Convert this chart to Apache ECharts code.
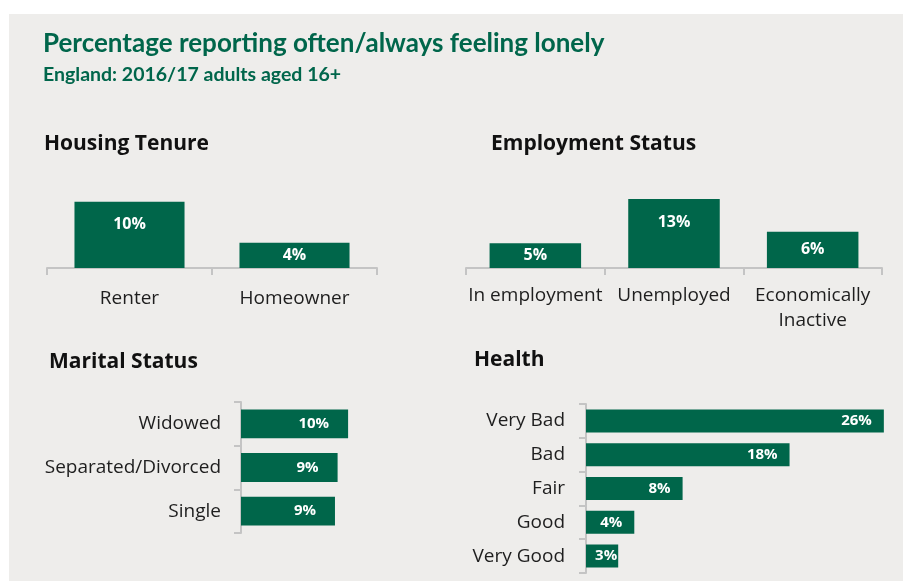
<!DOCTYPE html>
<html>
<head>
<meta charset="utf-8">
<script src="https://cdn.jsdelivr.net/npm/echarts@6/dist/echarts.min.js"></script>
<style>
  html, body { margin:0; padding:0; background:#ffffff; width:903px; height:581px; overflow:hidden; }
  #panel { position:absolute; left:9px; top:14px; right:0; bottom:0; background:#eeedeb; }
  #chart { position:absolute; left:0; top:0; width:903px; height:581px; }
</style>
</head>
<body>
<div id="panel"></div>
<div id="chart"></div>
<script>
// ---- Data ----
const housingCats = ['Renter', 'Homeowner'];
const housingVals = [10.2, 3.9];
const housingLabels = ['10%', '4%'];

const employmentCats = ['In employment', 'Unemployed', 'Economically\nInactive'];
const employmentVals = [4.6, 12.8, 6.7];
const employmentLabels = ['5%', '13%', '6%'];

const maritalCats = ['Widowed', 'Separated/Divorced', 'Single'];
const maritalVals = [10.2, 9.2, 8.95];
const maritalLabels = ['10%', '9%', '9%'];

const healthCats = ['Very Bad', 'Bad', 'Fair', 'Good', 'Very Good'];
const healthVals = [25.9, 17.7, 8.4, 4.2, 2.8];
const healthLabels = ['26%', '18%', '8%', '4%', '3%'];

// ---- Styles ----
const GREEN = '#00664a';
const AXIS = '#c4c4c4';
const OPEN = '"Open Sans", sans-serif';
const LATO = 'Lato, sans-serif';
const CAT_FONT = { fontFamily: OPEN, fontSize: 19, color: '#1e1e1e' };

function catAxisX(gridIndex, cats, margin, lineHeight) {
  return {
    type: 'category', gridIndex, data: cats,
    axisLine: { show: true, lineStyle: { color: AXIS, width: 2 } },
    axisTick: { show: true, length: 7, lineStyle: { color: AXIS, width: 2 } },
    axisLabel: Object.assign({ margin, lineHeight, interval: 0 }, CAT_FONT),
    splitLine: { show: false }
  };
}
function catAxisY(gridIndex, cats, margin) {
  return {
    type: 'category', gridIndex, data: cats, inverse: true,
    axisLine: { show: true, lineStyle: { color: AXIS, width: 2 } },
    axisTick: { show: true, length: 7, lineStyle: { color: AXIS, width: 2 } },
    axisLabel: Object.assign({ margin, interval: 0 }, CAT_FONT),
    splitLine: { show: false }
  };
}
function valAxis(gridIndex, max) {
  return { type: 'value', gridIndex, min: 0, max, show: false, splitLine: { show: false } };
}
function labelOf(arr) { return p => arr[p.dataIndex]; }

const valueLabelBase = { show: true, color: '#ffffff', fontFamily: OPEN, fontWeight: 'bold' };
const sectionStyle = { fontFamily: OPEN, fontWeight: 'bold', fontSize: 21, color: '#111111' };

const option = {
  animation: false,
  backgroundColor: 'transparent',
  title: [
    { text: 'Percentage reporting often/always feeling lonely', left: 43, top: 31, padding: 0,
      textStyle: { fontFamily: LATO, fontWeight: 'bold', fontSize: 26, color: '#00664b' } },
    { text: 'England: 2016/17 adults aged 16+', left: 43, top: 65, padding: 0,
      textStyle: { fontFamily: LATO, fontWeight: 'bold', fontSize: 19.5, color: '#00664b' } },
    { text: 'Housing Tenure', left: 44, top: 134, padding: 0, textStyle: sectionStyle },
    { text: 'Employment Status', left: 491, top: 134, padding: 0, textStyle: sectionStyle },
    { text: 'Marital Status', left: 49, top: 352, padding: 0, textStyle: sectionStyle },
    { text: 'Health', left: 474, top: 350, padding: 0, textStyle: sectionStyle }
  ],
  grid: [
    { left: 47, top: 190, width: 330, height: 78 },
    { left: 466, top: 192.4, width: 416, height: 75.6 },
    { left: 241, top: 402, width: 126, height: 131 },
    { left: 586, top: 404, width: 299, height: 169 }
  ],
  xAxis: [
    catAxisX(0, housingCats, 21, 19),
    catAxisX(1, employmentCats, 15, 25),
    valAxis(2, 12),
    valAxis(3, 26)
  ],
  yAxis: [
    valAxis(0, 12),
    valAxis(1, 14),
    catAxisY(2, maritalCats, 20),
    catAxisY(3, healthCats, 21)
  ],
  series: [
    { type: 'bar', xAxisIndex: 0, yAxisIndex: 0, barWidth: '66.7%',
      itemStyle: { color: GREEN },
      data: housingVals.map(v => ({ value: v, label: { position: v < 7 ? 'inside' : 'insideTop' } })),
      label: Object.assign({ fontSize: 16, distance: 15, formatter: labelOf(housingLabels) }, valueLabelBase) },
    { type: 'bar', xAxisIndex: 1, yAxisIndex: 1, barWidth: '66%',
      itemStyle: { color: GREEN },
      data: employmentVals.map(v => ({ value: v, label: { position: v < 7 ? 'inside' : 'insideTop' } })),
      label: Object.assign({ fontSize: 16, distance: 16, formatter: labelOf(employmentLabels) }, valueLabelBase) },
    { type: 'bar', xAxisIndex: 2, yAxisIndex: 2, barWidth: '66%',
      itemStyle: { color: GREEN },
      data: maritalVals,
      label: Object.assign({ fontSize: 15, position: 'insideRight', distance: 19, formatter: labelOf(maritalLabels) }, valueLabelBase) },
    { type: 'bar', xAxisIndex: 3, yAxisIndex: 3, barWidth: '68%',
      itemStyle: { color: GREEN },
      data: healthVals.map(v => ({ value: v, label: { distance: v < 4 ? 1 : 12 } })),
      label: Object.assign({ fontSize: 15, position: 'insideRight', formatter: labelOf(healthLabels) }, valueLabelBase) }
  ]
};

const chart = echarts.init(document.getElementById('chart'), null, { renderer: 'canvas' });
chart.setOption(option);
</script>
</body>
</html>
